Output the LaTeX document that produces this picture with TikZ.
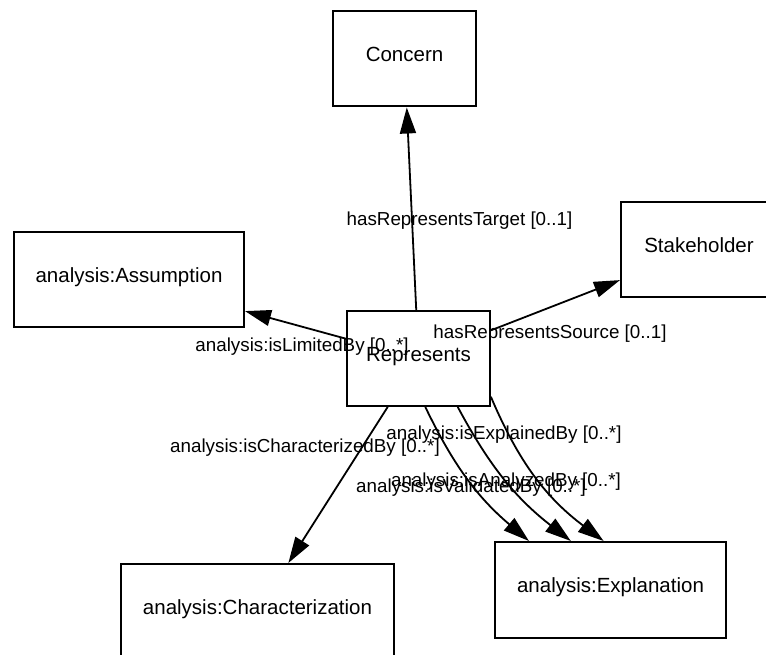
\documentclass[tikz,border=0pt]{standalone}
\usepackage{fontspec}
\setmainfont{Liberation Sans}
\usetikzlibrary{arrows.meta}

\begin{document}
\begin{tikzpicture}[x=1pt, y=1pt,
  cls/.style={draw, line width=2pt, minimum height=95pt, inner sep=0pt,
    text height=0.72em, text depth=0.21em, font=\fontsize{20.5}{24}\selectfont},
  rel/.style={line width=1.8pt, line cap=round, -{Triangle[length=26pt, width=16pt]}},
  lbl/.style={inner sep=0pt, text height=0.72em, text depth=0.21em,
    font=\fontsize{18.8}{22}\selectfont}]
\useasboundingbox (0,0) rectangle (766,655);
\clip (0,0) rectangle (766,655);
% classes
\node[cls, minimum width=143pt] (concern) at (404.5,596) {Concern};
\node[cls, minimum width=156pt] (stakeholder) at (699,405.5) {Stakeholder};
\node[cls, minimum width=230pt] (assumption) at (129,375.5) {analysis:Assumption};
\node[cls, minimum width=143pt] (represents) at (418.5,296.5) {Represents};
\node[cls, minimum width=273pt] (characterization) at (257.5,43.5) {analysis:Characterization};
\node[cls, minimum width=231pt, minimum height=96pt] (explanation) at (610.5,65) {analysis:Explanation};
% relations
\draw[rel] (represents) -- (concern);
\draw[rel] (represents) -- (stakeholder);
\draw[rel] (represents) -- (assumption);
\draw[rel] (represents) -- (characterization);
\draw[rel] (represents.-82) to[bend right=12] (explanation.149);
\draw[rel] (represents.-51) to[bend right=12] (explanation.129);
\draw[rel] (represents.-28) to[bend right=15] (explanation.98);
% relation labels
\node[lbl] (targetlbl) at (459.5,432) {hasRepresentsTarget [0..1]};
\node[lbl] (sourcelbl) at (550,319) {hasRepresentsSource [0..1]};
\node[lbl] (limitedlbl) at (302,306) {analysis:isLimitedBy [0..*]};
\node[lbl] (characterizedlbl) at (305,205) {analysis:isCharacterizedBy [0..*]};
\node[lbl] (explainedlbl) at (504,218) {analysis:isExplainedBy [0..*]};
\node[lbl] (analyzedlbl) at (506,171) {analysis:isAnalyzedBy [0..*]};
\node[lbl] (validatedlbl) at (471,165) {analysis:isValidatedBy [0..*]};
\end{tikzpicture}
\end{document}
